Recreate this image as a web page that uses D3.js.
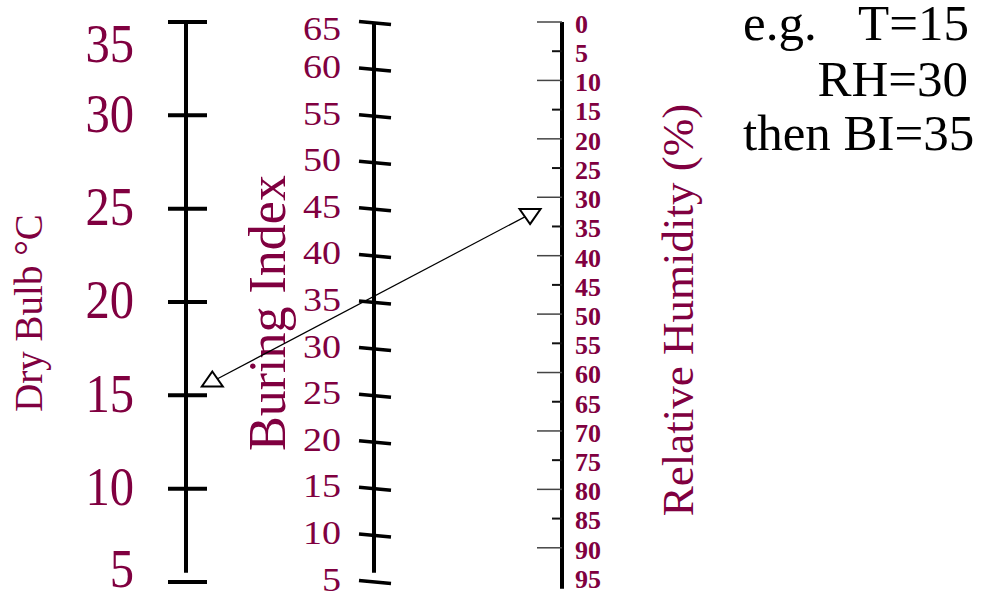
<!DOCTYPE html>
<html><head><meta charset="utf-8">
<script src="https://cdn.jsdelivr.net/npm/d3@7"></script>
<style>body{margin:0;background:#fff}svg{display:block}</style>
</head><body>
<svg id="c" width="982" height="594"></svg>
<script>
// ---- data ----
const tempTicks = [5, 10, 15, 20, 25, 30, 35];
const biTicks = [5, 10, 15, 20, 25, 30, 35, 40, 45, 50, 55, 60, 65];
const rhLabels = [0, 5, 10, 15, 20, 25, 30, 35, 40, 45, 50, 55, 60, 65, 70, 75, 80, 85, 90, 95];
const rhMarks = [0, 5, 10, 15, 20, 25, 30, 35, 40, 45, 50, 55, 60, 65, 70, 75, 80, 85, 90];
const exampleT = 15;
const exampleRH = 30;
const exampleBI = 35;
const axisTitles = ["Dry Bulb °C", "Buring Index", "Relative Humidity (%)"];
const noteLines = ["e.g.", "T=15", "RH=30", "then BI=35"];

// ---- drawing ----
const svg = d3.select("#c");
const maroon = "#800040";
const serif = "'Liberation Serif','Times New Roman',serif";

const yT = d3.scaleLinear().domain([5, 35]).range([582, 22]);
const yBI = d3.scaleLinear().domain([5, 65]).range([582, 23]);
const yRH = d3.scaleLinear().domain([0, 95]).range([22, 577]);
const xT = 186, xBI = 374, xRH = 562;

// Dry bulb axis
svg.append("line").attr("x1", xT).attr("x2", xT)
  .attr("y1", yT(35)).attr("y2", yT(5.5))
  .attr("stroke", "#000").attr("stroke-width", 4);
svg.selectAll(".tT").data(tempTicks).join("line")
  .attr("x1", xT - 18).attr("x2", xT + 21)
  .attr("y1", d => yT(d)).attr("y2", d => yT(d))
  .attr("stroke", "#000").attr("stroke-width", 4);
svg.selectAll(".lT").data(tempTicks).join("text")
  .attr("transform", d => `translate(134,${Math.min(Math.max(yT(d) - 2, 44), 569)}) scale(0.9,1)`)
  .attr("dy", "0.34em").attr("text-anchor", "end")
  .attr("font-family", serif).attr("font-size", 54).attr("fill", maroon)
  .text(d => d);

// Burning index axis
svg.append("line").attr("x1", xBI).attr("x2", xBI)
  .attr("y1", yBI(65)).attr("y2", yBI(6))
  .attr("stroke", "#000").attr("stroke-width", 4);
svg.selectAll(".tB").data(biTicks).join("line")
  .attr("x1", xBI - 15).attr("x2", xBI + 17)
  .attr("y1", d => yBI(d) - 1.5).attr("y2", d => yBI(d) + 1.5)
  .attr("stroke", "#000").attr("stroke-width", 3.5);
svg.selectAll(".lB").data(biTicks).join("text")
  .attr("transform", d => `translate(341,${Math.max(yBI(d) - 3, 28)}) scale(1.12,1)`)
  .attr("dy", "0.34em").attr("text-anchor", "end")
  .attr("font-family", serif).attr("font-size", 34).attr("fill", maroon)
  .text(d => d);

// RH axis
svg.append("line").attr("x1", xRH).attr("x2", xRH)
  .attr("y1", yRH(0)).attr("y2", yRH(97))
  .attr("stroke", "#000").attr("stroke-width", 4);
svg.selectAll(".tR").data(rhMarks).join("line")
  .attr("x1", d => xRH - (d % 10 === 0 ? 25 : 10)).attr("x2", xRH)
  .attr("y1", d => yRH(d)).attr("y2", d => yRH(d))
  .attr("stroke", d => d % 10 === 0 ? "#444" : "#111")
  .attr("stroke-width", d => d % 10 === 0 ? 1.5 : 2);
svg.selectAll(".lR").data(rhLabels).join("text")
  .attr("x", 575).attr("y", d => yRH(d) + 2)
  .attr("dy", "0.34em").attr("text-anchor", "start")
  .attr("font-family", serif).attr("font-weight", "bold")
  .attr("font-size", 26).attr("fill", maroon)
  .text(d => d);

// Axis titles
const titles = [
  {t: axisTitles[0], x: 42, y: 313, fs: 39},
  {t: axisTitles[1], x: 285, y: 313, fs: 52},
  {t: axisTitles[2], x: 693, y: 310, fs: 45}
];
svg.selectAll(".ttl").data(titles).join("text")
  .attr("transform", d => `translate(${d.x},${d.y}) rotate(-90)`)
  .attr("text-anchor", "middle")
  .attr("font-family", serif).attr("font-size", d => d.fs).attr("fill", maroon)
  .text(d => d.t);

// Example line
const p0 = [xT, yT(exampleT)], p1 = [xRH, yRH(exampleRH)];
const along = t => [p0[0] + (p1[0] - p0[0]) * t, p0[1] + (p1[1] - p0[1]) * t];
const a = along(0.07), b = along(0.915);
svg.append("line").attr("x1", a[0]).attr("y1", a[1]).attr("x2", b[0]).attr("y2", b[1])
  .attr("stroke", "#000").attr("stroke-width", 1.2);
const tri = (c, up) => {
  const w = 10.5, h = 15, s = up ? 1 : -1;
  return `M${c[0]},${c[1] - s * h * 2 / 3}L${c[0] + w},${c[1] + s * h / 3}L${c[0] - w},${c[1] + s * h / 3}Z`;
};
svg.append("path").attr("d", tri(a, true)).attr("fill", "#fff").attr("stroke", "#000").attr("stroke-width", 2);
svg.append("path").attr("d", tri(b, false)).attr("fill", "#fff").attr("stroke", "#000").attr("stroke-width", 2);

// Note text
const notes = [
  {t: noteLines[0], x: 743, y: 40, anchor: "start"},
  {t: noteLines[1], x: 969, y: 40, anchor: "end"},
  {t: noteLines[2], x: 968, y: 96, anchor: "end"},
  {t: noteLines[3], x: 743, y: 150, anchor: "start"}
];
svg.selectAll(".note").data(notes).join("text")
  .attr("x", d => d.x).attr("y", d => d.y).attr("text-anchor", d => d.anchor)
  .attr("font-family", serif).attr("font-size", 51).attr("fill", "#000")
  .text(d => d.t);
</script>
</body></html>
